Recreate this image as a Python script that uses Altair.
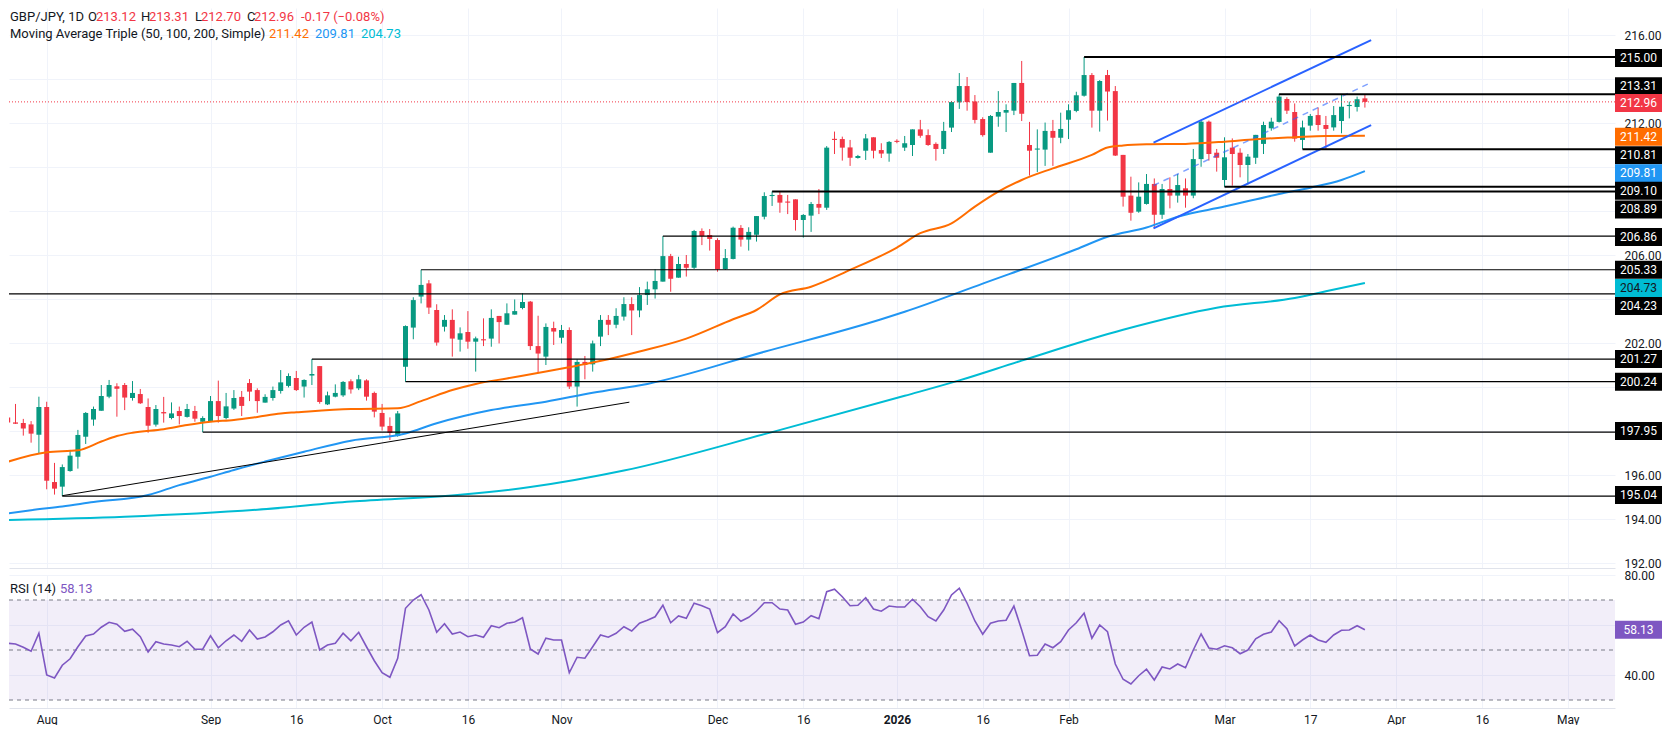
import altair as alt
import pandas as pd

# ---------------------------------------------------------------- data
FIRST_INDEX = -5          # bar index of the first candle (bar 0 = 1 Aug 2025, weekdays only)

OPEN = [
    198.61, 198.39, 198.36, 198.30, 197.83,
    199.09, 195.68, 195.47, 196.18, 196.83, 197.74, 198.52, 198.92, 199.56, 200.03,
    200.09, 199.50, 199.68, 199.09, 198.29, 198.86, 198.59, 198.91, 198.64, 198.91,
    198.42, 198.42, 199.36, 198.59, 199.02, 199.55, 200.18, 199.86, 199.29, 199.50,
    199.82, 200.05, 200.41, 200.02, 200.52, 200.95, 199.21, 199.56, 199.62, 200.26,
    199.94, 200.30, 199.73, 198.82, 198.23, 197.77, 200.92, 202.70, 204.11, 204.71,
    203.50, 202.74, 203.05, 202.15, 202.50, 202.06, 202.15, 202.20, 203.23, 202.83,
    203.29, 203.59, 203.88, 201.86, 201.38, 202.68, 202.24, 202.59, 200.02, 201.14,
    201.03, 202.29, 203.05, 202.83, 203.20, 203.77, 203.48, 204.18, 204.44, 204.79,
    205.95, 204.97, 205.59, 205.42, 207.09, 206.91, 206.68, 205.36, 205.82, 207.23,
    206.70, 206.92, 207.74, 208.68, 208.73, 208.41, 208.53, 207.59, 207.79, 208.32,
    208.15, 211.27, 211.27, 210.89, 210.41, 210.74, 211.35, 210.77, 210.61, 211.17,
    210.88, 211.00, 211.71, 211.45, 211.05, 210.82, 211.79, 212.94, 213.68, 212.98,
    212.18, 210.65, 212.29, 212.47, 212.56, 213.82, 211.00, 210.79, 210.79, 211.64,
    211.33, 212.15, 212.55, 213.24, 214.18, 212.56, 214.18, 213.45, 210.55, 208.70,
    207.97, 208.32, 209.23, 207.83, 209.00, 208.70, 209.03, 208.70, 210.36, 212.06,
    210.65, 209.41, 210.88, 210.65, 210.09, 210.42, 211.05, 211.76, 212.05, 213.09,
    212.50, 211.23, 211.88, 212.36, 211.91, 211.80, 212.09, 212.77, 212.73, 213.12,
]
HIGH = [
    199.11, 199.23, 198.55, 198.45, 199.56,
    199.33, 196.55, 196.48, 197.14, 198.05, 198.86, 199.11, 200.09, 200.32, 200.17,
    200.18, 200.27, 199.91, 199.48, 199.18, 199.55, 199.30, 199.11, 199.23, 199.14,
    198.67, 199.59, 200.29, 199.73, 199.86, 199.82, 200.36, 199.94, 199.67, 200.02,
    200.77, 200.62, 200.73, 200.35, 201.27, 200.95, 199.79, 200.12, 200.27, 200.35,
    200.55, 200.35, 199.79, 199.23, 198.62, 198.91, 202.80, 204.08, 205.33, 204.86,
    203.76, 203.27, 203.53, 202.71, 203.45, 202.29, 203.12, 203.53, 203.23, 203.80,
    203.98, 204.26, 203.91, 203.24, 202.89, 202.97, 202.82, 202.71, 201.26, 201.41,
    202.11, 203.27, 203.27, 203.58, 204.08, 204.08, 204.54, 204.79, 205.35, 206.86,
    206.05, 205.92, 206.00, 207.14, 207.21, 207.18, 206.76, 206.27, 207.29, 207.36,
    207.26, 207.77, 208.85, 208.89, 208.88, 208.73, 208.53, 207.86, 208.41, 209.00,
    210.95, 211.61, 211.38, 211.23, 210.55, 211.50, 211.35, 211.08, 211.18, 211.26,
    211.41, 211.71, 212.14, 211.71, 211.12, 212.05, 213.00, 214.27, 214.09, 213.27,
    212.26, 212.36, 213.45, 212.85, 213.82, 214.82, 212.05, 211.71, 212.02, 212.14,
    212.47, 212.85, 213.42, 215.00, 214.27, 213.95, 214.41, 213.68, 210.55, 209.56,
    209.30, 209.68, 209.48, 209.23, 209.53, 209.68, 209.48, 210.82, 212.14, 212.11,
    210.82, 211.35, 211.30, 210.85, 210.59, 211.46, 212.06, 212.24, 213.31, 213.17,
    212.89, 212.11, 212.41, 212.71, 212.32, 212.77, 213.27, 212.97, 213.20, 213.31,
]
LOW = [
    198.20, 198.32, 197.79, 197.47, 196.98,
    195.35, 195.11, 195.04, 196.15, 196.29, 197.41, 198.24, 198.92, 199.49, 198.65,
    198.95, 199.38, 199.23, 197.92, 198.20, 198.38, 198.53, 198.30, 198.61, 198.42,
    197.95, 198.41, 198.38, 198.53, 198.96, 198.68, 199.36, 198.83, 199.29, 199.38,
    199.70, 199.98, 199.82, 199.52, 200.09, 199.24, 199.18, 199.53, 199.55, 199.70,
    199.86, 199.38, 198.62, 198.02, 197.59, 197.74, 200.24, 202.17, 203.80, 203.32,
    201.88, 202.52, 201.38, 201.61, 201.74, 200.70, 201.86, 201.83, 201.98, 202.83,
    203.29, 203.53, 201.68, 200.65, 201.00, 201.91, 201.98, 199.91, 199.11, 200.35,
    200.70, 201.86, 202.36, 202.67, 203.02, 202.36, 203.17, 203.73, 204.02, 204.79,
    204.33, 204.97, 205.02, 205.36, 206.45, 206.20, 205.24, 205.32, 205.80, 206.38,
    206.20, 206.61, 207.62, 208.23, 207.92, 207.86, 207.11, 206.79, 207.05, 207.86,
    208.05, 210.59, 210.29, 210.05, 210.38, 210.32, 210.39, 210.41, 210.24, 211.08,
    210.73, 210.50, 211.33, 210.96, 210.29, 210.59, 211.59, 212.64, 212.56, 211.98,
    211.38, 210.65, 211.83, 211.59, 212.36, 212.09, 209.61, 209.77, 210.05, 210.05,
    211.08, 211.27, 212.49, 213.20, 211.79, 211.61, 212.11, 210.50, 208.20, 207.56,
    207.92, 208.29, 207.21, 207.64, 208.12, 208.38, 208.15, 208.58, 210.01, 210.29,
    209.79, 209.10, 209.15, 209.53, 209.21, 210.14, 210.59, 211.65, 212.02, 212.41,
    211.15, 210.81, 211.65, 211.65, 210.81, 211.65, 211.53, 212.21, 212.52, 212.70,
]
CLOSE = [
    198.39, 198.33, 198.11, 197.88, 199.09,
    195.74, 195.38, 196.36, 196.88, 197.82, 198.82, 199.00, 199.59, 200.09, 199.92,
    199.52, 199.73, 199.26, 198.24, 199.00, 198.80, 198.80, 198.68, 199.00, 198.56,
    198.59, 199.36, 198.68, 199.12, 199.50, 199.14, 199.79, 199.36, 199.55, 199.86,
    200.21, 200.50, 199.86, 200.32, 200.59, 199.32, 199.62, 199.73, 200.23, 199.89,
    200.35, 199.56, 198.88, 198.20, 197.92, 198.80, 202.77, 203.95, 204.64, 203.61,
    202.02, 203.05, 202.20, 202.44, 202.06, 202.21, 202.12, 203.14, 202.95, 203.35,
    203.45, 203.86, 201.86, 201.52, 202.73, 202.52, 202.59, 200.02, 201.14, 201.00,
    201.98, 203.05, 202.83, 203.23, 203.77, 203.48, 204.18, 204.44, 204.82, 205.95,
    204.92, 205.59, 205.42, 207.09, 206.86, 206.73, 205.35, 205.86, 207.24, 206.70,
    207.05, 207.77, 208.68, 208.73, 208.38, 208.38, 207.59, 207.82, 208.32, 208.15,
    210.88, 211.23, 210.88, 210.42, 210.50, 211.30, 210.74, 210.61, 211.14, 211.14,
    211.08, 211.71, 211.42, 211.00, 210.82, 211.64, 212.95, 213.68, 212.95, 212.14,
    211.45, 212.32, 212.50, 212.59, 213.82, 212.42, 210.74, 210.82, 211.64, 211.33,
    211.73, 212.58, 213.26, 214.18, 212.56, 213.91, 213.43, 210.52, 208.65, 207.92,
    208.65, 209.23, 207.83, 209.00, 208.70, 209.18, 208.70, 210.36, 212.06, 210.59,
    210.42, 210.44, 210.59, 210.09, 210.47, 211.46, 211.91, 212.06, 213.20, 212.56,
    211.29, 211.80, 212.32, 211.91, 211.73, 212.36, 212.74, 212.80, 213.08, 212.96,
]
RSI = [
    52.7, 52.4, 51.1, 49.5, 56.7,
    40.0, 38.8, 43.9, 46.5, 51.3, 55.6, 56.4, 59.1, 61.1, 60.3,
    57.5, 58.3, 55.3, 49.2, 53.3, 52.4, 52.0, 51.3, 53.5, 50.3,
    50.3, 55.7, 50.9, 53.7, 56.0, 53.5, 58.0, 54.4, 55.2, 57.3,
    60.0, 61.7, 56.0, 59.1, 61.2, 50.0, 52.0, 52.7, 56.7, 53.7,
    57.1, 51.3, 45.7, 40.9, 39.1, 46.7, 66.7, 70.0, 72.1, 66.0,
    57.1, 60.5, 56.4, 57.2, 55.3, 56.0, 55.1, 59.7, 58.9, 60.7,
    61.2, 62.9, 50.4, 48.4, 54.7, 54.0, 54.0, 40.9, 47.1, 46.7,
    51.3, 56.0, 55.1, 56.7, 59.3, 57.6, 60.7, 61.9, 63.3, 67.9,
    60.9, 63.6, 62.7, 68.7, 67.7, 66.4, 56.9, 59.3, 64.4, 61.5,
    63.1, 65.6, 68.9, 68.9, 66.4, 66.0, 60.3, 61.2, 63.7, 62.5,
    73.3, 74.3, 71.3, 67.7, 67.9, 70.9, 66.4, 65.5, 67.6, 67.2,
    67.2, 70.3, 67.3, 63.3, 61.6, 66.0, 72.0, 74.7, 68.7, 61.6,
    56.3, 60.7, 61.6, 61.9, 67.6, 58.0, 47.7, 47.9, 52.4, 50.9,
    53.3, 58.0, 60.9, 64.7, 54.7, 60.0, 57.3, 44.4, 38.3, 36.4,
    39.7, 42.3, 38.0, 43.2, 42.4, 44.4, 42.9, 50.0, 56.4, 50.8,
    50.3, 51.7, 50.9, 48.5, 50.0, 54.5, 56.3, 57.2, 61.7, 58.5,
    51.6, 54.0, 56.0, 54.0, 53.1, 56.0, 57.9, 58.0, 59.7, 58.13,
]
CHANGE, CHANGE_PCT = -0.17, -0.08

# moving averages at these bar indices
MA50_IDX = [-5, 0, 4, 7, 9, 11, 15, 18, 21, 24, 27, 30, 32, 39, 45, 48, 52, 55, 59, 64, 68,
            72, 76, 82, 88, 91, 94, 98, 103, 109, 112, 116, 119, 122, 125, 129, 134, 136,
            138, 141, 146, 151, 155, 160, 164, 169]
MA50_VAL = [196.60, 197.03, 197.12, 197.52, 197.77, 197.92, 198.08, 198.27, 198.42, 198.50,
            198.64, 198.80, 198.85, 199.00, 199.03, 199.36, 199.86, 200.14, 200.39, 200.70,
            200.97, 201.26, 201.61, 202.20, 203.08, 203.50, 204.21, 204.56, 205.32, 206.34,
            206.99, 207.44, 208.20, 208.88, 209.41, 209.94, 210.55, 210.89, 210.98, 211.03,
            211.05, 211.15, 211.26, 211.35, 211.41, 211.42]
MA100_IDX = [-5, -2, 2, 6, 13, 17, 21, 24, 28, 33, 39, 46, 50, 57, 64, 70, 77, 92, 107, 110,
             120, 132, 136, 141, 145, 151, 158, 162, 166, 169]
MA100_VAL = [194.25, 194.40, 194.57, 194.77, 195.09, 195.54, 195.92, 196.23, 196.61, 197.06,
             197.56, 197.89, 198.35, 198.95, 199.33, 199.74, 200.14, 201.60, 203.08, 203.42,
             204.70, 206.26, 206.83, 207.25, 207.74, 208.20, 208.77, 209.06, 209.41, 209.81]
MA200_IDX = [-5, 10, 27, 39, 53, 62, 74, 93, 110, 117, 125, 138, 150, 160, 164, 169]
MA200_VAL = [193.95, 194.10, 194.42, 194.79, 195.10, 195.45, 196.20, 197.95, 199.60, 200.30,
             201.20, 202.60, 203.60, 204.05, 204.35, 204.73]

# horizontal support / resistance levels
LEVEL_PRICE = [215.00, 213.31, 210.81, 209.10, 208.89, 206.86, 205.33, 204.23, 201.27, 200.24, 197.95, 195.04]
LEVEL_START = [133, 158, 161, 151, 93, 79, 48, -10, 34, 46, 20, 2]

# trend lines: black support line, blue channel (upper, lower, dashed middle)
TREND_X0 = [2, 141.9, 141.9, 141.9]
TREND_Y0 = [195.06, 211.11, 207.21, 209.16]
TREND_X1 = [74.7, 169.8, 169.8, 169.8]
TREND_Y1 = [199.31, 215.77, 211.90, 213.84]

# time axis
TICK_IDX = [0, 21, 32, 43, 54, 66, 86, 97, 109, 120, 131, 151, 162, 173, 184, 195]
TICK_LABELS = ["Aug", "Sep", "16", "Oct", "16", "Nov", "Dec", "16", "2026", "16", "Feb",
               "Mar", "17", "Apr", "16", "May"]
PRICE_GRID = list(range(192, 217, 2))
PRICE_HIDDEN = [214, 210, 208, 204, 200, 198]
RSI_GRID = [40, 60, 80]

# price-scale tags
BOX_VALUES = [215.00, 213.31, 212.96, 211.42, 210.81, 209.81, 209.10, 208.89, 206.86, 205.33,
              204.73, 204.23, 201.27, 200.24, 197.95, 195.04]
RSI_LAST = RSI[-1]
RSI_LEVELS = [70, 50, 30]

# ---------------------------------------------------------------- styles / layout
FONT = "Roboto"
UP, DOWN = "#089981", "#f23645"
GRID = "#f0f3fa"
TXT = "#131722"
C50, C100, C200, CRSI = "#ff6d00", "#2196f3", "#00bcd4", "#7e57c2"
BOX_FILL = ["#000000", "#000000", DOWN, C50, "#000000", C100, "#000000",
            "#000000", "#000000", "#000000", C200, "#000000", "#000000", "#000000",
            "#000000", "#000000"]
BOX_TEXT = ["#ffffff"] * 10 + [TXT] + ["#ffffff"] * 5
BOX_SHIFT_PX = [1, -8, 1, 1, 6, 2, 4, 18, 1, 0, 5, 12, 0, 0, -1, -1]
LEVEL_WIDTH = [2, 2, 2, 2, 2, 1.2, 1.2, 1.2, 1.2, 1.2, 1.2, 1.2]

X0, PX = 45.7, 7.8            # page x of bar 0 and px per bar
W = 1606
H1, H2 = 560, 133
PPU = 22.0                    # px per price unit
Y_TOP = 216 + (35 - 8) / PPU
Y_BOT = Y_TOP - H1 / PPU
XMIN = (8 - X0) / PX
XMAX = (8 + W - X0) / PX
R_PPU = 2.5
R_TOP = 80
R_BOT = R_TOP - H2 / R_PPU
BOXW, BOXH = 47, 18
HALF = 0.32
MINB = 0.05

assert len(OPEN) == len(HIGH) == len(LOW) == len(CLOSE) == len(RSI), (
    len(OPEN), len(HIGH), len(LOW), len(CLOSE), len(RSI))

idx = list(range(FIRST_INDEX, FIRST_INDEX + len(OPEN)))
cdf = pd.DataFrame({"i": idx, "o": OPEN, "h": HIGH, "l": LOW, "c": CLOSE})
rdf = pd.DataFrame({"i": idx, "r": RSI})
ONE = pd.DataFrame({"k": [0]})

xs = alt.Scale(domain=[XMIN, XMAX], nice=False, zero=False)
ys = alt.Scale(domain=[Y_BOT, Y_TOP], nice=False, zero=False)
rs = alt.Scale(domain=[R_BOT, R_TOP], nice=False, zero=False)

tick_expr = " : ".join(f"datum.value == {t} ? '{s}'" for t, s in zip(TICK_IDX, TICK_LABELS)) + " : ''"
hidden = ",".join(str(v) for v in PRICE_HIDDEN)
price_expr = f"indexof([{hidden}], datum.value) >= 0 ? '' : format(datum.value, '.2f')"
year_idx = TICK_IDX[TICK_LABELS.index("2026")]

XA = alt.Axis(values=TICK_IDX, labels=False, ticks=False, grid=True, gridColor=GRID,
              domain=True, domainColor="#e0e3eb", title=None)
YA = alt.Axis(orient="right", values=PRICE_GRID, labelExpr=price_expr, grid=True,
              gridColor=GRID, ticks=False, domain=False, labelPadding=9,
              labelFontSize=12, labelColor=TXT, labelFont=FONT, title=None,
              labelOverlap=False)
XR = alt.Axis(values=TICK_IDX, labelExpr=tick_expr, grid=True, gridColor=GRID,
              ticks=False, domain=True, domainColor="#e0e3eb", labelPadding=6,
              labelFontSize=12, labelColor=TXT, labelFont=FONT, labelFlush=False,
              labelOverlap=False, title=None,
              labelFontWeight={"condition": {"test": f"datum.value == {year_idx}",
                                             "value": "bold"}, "value": "normal"})
YR = alt.Axis(orient="right", values=RSI_GRID,
              labelExpr="datum.value == 60 ? '' : format(datum.value, '.2f')",
              grid=True, gridColor=GRID, ticks=False, domain=False, labelPadding=9,
              labelFontSize=12, labelColor=TXT, labelFont=FONT, title=None,
              labelOverlap=False)

candle_color = alt.condition("datum.c >= datum.o", alt.value(UP), alt.value(DOWN))


def px(field):
    return alt.X(field, scale=xs, axis=XA)


def py(field):
    return alt.Y(field, scale=ys, axis=YA)


def ry(field):
    return alt.Y(field, scale=rs, axis=YR)


def txt(s, x, y, color, size=13, weight="normal", align="left"):
    return alt.Chart(ONE).mark_text(align=align, baseline="middle", fontSize=size,
                                    fontWeight=weight, color=color, font=FONT).encode(
        x=alt.value(x), y=alt.value(y), text=alt.value(s))


# ---------------------------------------------------------------- main panel
wick = alt.Chart(cdf).mark_rule(strokeWidth=1, clip=True).encode(
    x=px("i:Q"), y=py("l:Q"), y2="h:Q", color=candle_color)

body = alt.Chart(cdf).transform_calculate(
    xa=f"datum.i - {HALF}", xb=f"datum.i + {HALF}",
    ya=f"max(max(datum.o, datum.c), min(datum.o, datum.c) + {MINB})",
    yb="min(datum.o, datum.c)",
).mark_rect(clip=True).encode(
    x=px("xa:Q"), x2="xb:Q", y=py("ya:Q"), y2="yb:Q", color=candle_color)


def ma_line(ix, vals, color):
    d = pd.DataFrame({"i": ix, "v": vals})
    return alt.Chart(d).mark_line(color=color, strokeWidth=2, clip=True,
                                  interpolate="monotone").encode(x=px("i:Q"), y=py("v:Q"))


ma50 = ma_line(MA50_IDX, MA50_VAL, C50)
ma100 = ma_line(MA100_IDX, MA100_VAL, C100)
ma200 = ma_line(MA200_IDX, MA200_VAL, C200)

tdf = pd.DataFrame({"x0": TREND_X0, "y0": TREND_Y0, "x1": TREND_X1, "y1": TREND_Y1,
                    "kind": ["black", "channel", "channel", "mid"]})


def trend(kind, **style):
    return alt.Chart(tdf).transform_filter(f"datum.kind == '{kind}'").mark_rule(
        clip=True, **style).encode(x=px("x0:Q"), x2="x1:Q", y=py("y0:Q"), y2="y1:Q")


t_black = trend("black", color="#000000", strokeWidth=1)
t_chan = trend("channel", color="#2962ff", strokeWidth=2)
t_mid = trend("mid", color="#2962ff", strokeWidth=1.5, strokeDash=[6, 5], opacity=0.6)

ldf = pd.DataFrame({"p": LEVEL_PRICE, "s": LEVEL_START, "w": LEVEL_WIDTH})
levels = alt.Chart(ldf).mark_rule(color="#000000", clip=True).encode(
    x=px("s:Q"), x2=alt.value(W), y=py("p:Q"),
    strokeWidth=alt.StrokeWidth("w:Q", scale=None))

price_line = alt.Chart(pd.DataFrame({"c": [CLOSE[-1]]})).mark_rule(
    color=DOWN, strokeWidth=1, strokeDash=[1, 2]).encode(
    x=alt.value(0), x2=alt.value(W), y=py("c:Q"))

bdf = pd.DataFrame({"v": BOX_VALUES, "fill": BOX_FILL, "tc": BOX_TEXT, "sh": BOX_SHIFT_PX,
                    "label": [f"{v:.2f}" for v in BOX_VALUES]})
box_base = alt.Chart(bdf).transform_calculate(
    yc=f"datum.v - datum.sh / {PPU}",
    y1=f"datum.v - datum.sh / {PPU} + {BOXH / 2} / {PPU}",
    y2=f"datum.v - datum.sh / {PPU} - {BOXH / 2} / {PPU}")
box_rect = box_base.mark_rect(clip=False).encode(
    x=alt.value(W), x2=alt.value(W + BOXW), y=py("y1:Q"), y2="y2:Q",
    color=alt.Color("fill:N", scale=None))
box_text = box_base.mark_text(align="center", baseline="middle", fontSize=12, font=FONT,
                              clip=False).encode(
    x=alt.value(W + BOXW / 2), y=py("yc:Q"),
    text="label:N", color=alt.Color("tc:N", scale=None))

o_, h_, l_, c_ = OPEN[-1], HIGH[-1], LOW[-1], CLOSE[-1]
Y1, Y2 = 8.7, 26
head = [
    txt("GBP/JPY, 1D", 1, Y1, TXT),
    txt("O", 79, Y1, TXT), txt(f"{o_:.2f}", 87, Y1, DOWN),
    txt("H", 132, Y1, TXT), txt(f"{h_:.2f}", 140, Y1, DOWN),
    txt("L", 186, Y1, TXT), txt(f"{l_:.2f}", 192, Y1, DOWN),
    txt("C", 238, Y1, TXT), txt(f"{c_:.2f}", 245, Y1, DOWN),
    txt(f"{CHANGE:.2f} (\u2212{abs(CHANGE_PCT):.2f}%)", 292, Y1, DOWN),
    txt("Moving Average Triple (50, 100, 200, Simple)", 1, Y2, TXT),
    txt(f"{MA50_VAL[-1]:.2f}", 260, Y2, C50),
    txt(f"{MA100_VAL[-1]:.2f}", 306, Y2, C100),
    txt(f"{MA200_VAL[-1]:.2f}", 352, Y2, C200),
]

main = alt.layer(wick, body, ma200, ma100, ma50, t_black, t_chan, t_mid, levels,
                 price_line, *head, box_rect, box_text).properties(width=W, height=H1)

# ---------------------------------------------------------------- RSI panel
band = alt.Chart(pd.DataFrame({"lo": [min(RSI_LEVELS)], "hi": [max(RSI_LEVELS)]})).mark_rect(
    color=CRSI, opacity=0.1).encode(
    x=alt.value(0), x2=alt.value(W), y=ry("lo:Q"), y2="hi:Q")
rsi_levels = alt.Chart(pd.DataFrame({"lv": RSI_LEVELS})).mark_rule(
    color="#787b86", strokeWidth=1, strokeDash=[4, 4]).encode(
    x=alt.value(0), x2=alt.value(W), y=ry("lv:Q"))
rsi_line = alt.Chart(rdf).mark_line(color=CRSI, strokeWidth=1.6, clip=True).encode(
    x=alt.X("i:Q", scale=xs, axis=XR), y=ry("r:Q"))
rsi_box_d = pd.DataFrame({"r": [RSI_LAST], "label": [f"{RSI_LAST:.2f}"]})
rsi_box = alt.Chart(rsi_box_d).transform_calculate(
    y1=f"datum.r + {BOXH / 2} / {R_PPU}", y2=f"datum.r - {BOXH / 2} / {R_PPU}"
).mark_rect(color=CRSI, clip=False).encode(
    x=alt.value(W), x2=alt.value(W + BOXW), y=ry("y1:Q"), y2="y2:Q")
rsi_box_t = alt.Chart(rsi_box_d).mark_text(align="center", baseline="middle", fontSize=12,
                                           font=FONT, color="#ffffff", clip=False).encode(
    x=alt.value(W + BOXW / 2), y=ry("r:Q"), text="label:N")
rsi_head = [txt("RSI (14)", 1, 14, TXT), txt(f"{RSI_LAST:.2f}", 51, 14, CRSI)]

rsi = alt.layer(band, rsi_levels, rsi_line, *rsi_head, rsi_box, rsi_box_t).properties(
    width=W, height=H2)

chart = alt.vconcat(main, rsi, spacing=0).properties(padding=0).configure(
    font=FONT, background="#ffffff").configure_view(strokeWidth=0)

chart.save("out.html", embed_options={"renderer": "svg", "actions": False})
